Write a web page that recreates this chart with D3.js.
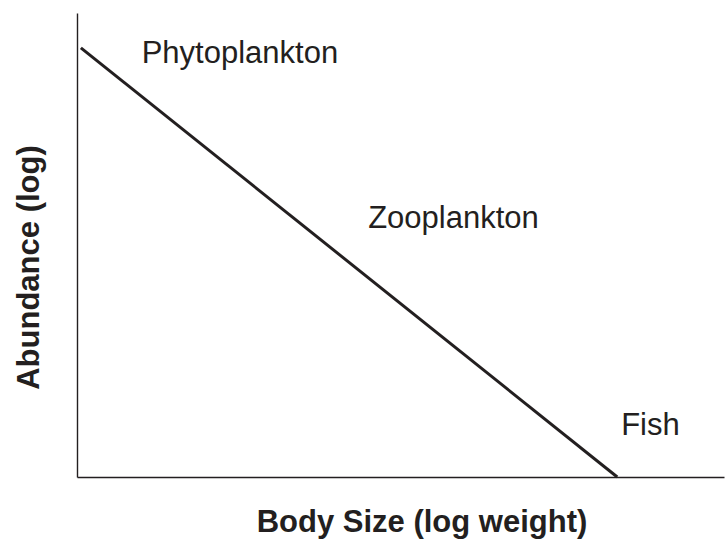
<!DOCTYPE html>
<html>
<head>
<meta charset="utf-8">
<script src="https://cdn.jsdelivr.net/npm/d3@7"></script>
<style>
  html, body { margin: 0; padding: 0; background: #fff; }
  svg { display: block; }
</style>
</head>
<body>
<svg id="chart" width="726" height="539"></svg>
<script>
// ---- data ----
const xDomain = [0, 10];            // log body weight (arbitrary units)
const yDomain = [0, 10];            // log abundance (arbitrary units)
const lineX = [0.06, 8.35];
const lineY = [9.25, 0];
const labelNames = ["Phytoplankton", "Zooplankton", "Fish"];
const labelX = [1.0, 4.5, 8.41];
const labelY = [8.92, 5.37, 0.905];
const xTitle = "Body Size (log weight)";
const yTitle = "Abundance (log)";

// ---- layout ----
const plotLeft = 77, plotRight = 724, plotTop = 13, plotBottom = 477;
const ink = "#231f20";
const font = "'Liberation Sans', Arial, Helvetica, sans-serif";

const svg = d3.select("#chart");
const x = d3.scaleLinear().domain(xDomain).range([plotLeft, plotRight]);
const y = d3.scaleLinear().domain(yDomain).range([plotBottom, plotTop]);

// axes (no ticks)
svg.append("g")
  .attr("transform", `translate(0,${plotBottom})`)
  .call(d3.axisBottom(x).tickValues([]).tickSizeOuter(0))
  .call(g => g.select(".domain").attr("stroke", ink).attr("stroke-width", 1.4));
svg.append("g")
  .attr("transform", `translate(${plotLeft},0)`)
  .call(d3.axisLeft(y).tickValues([]).tickSizeOuter(0))
  .call(g => g.select(".domain").attr("stroke", ink).attr("stroke-width", 1.4));

// size-spectrum line
const pts = lineX.map((v, i) => [v, lineY[i]]);
svg.append("path")
  .datum(pts)
  .attr("fill", "none")
  .attr("stroke", ink)
  .attr("stroke-width", 3)
  .attr("d", d3.line().x(d => x(d[0])).y(d => y(d[1])));

// labels
svg.selectAll("text.lbl")
  .data(labelNames)
  .join("text")
  .attr("class", "lbl")
  .attr("x", (d, i) => x(labelX[i]))
  .attr("y", (d, i) => y(labelY[i]))
  .attr("font-family", font)
  .attr("font-size", 31)
  .attr("fill", ink)
  .text(d => d);

// axis titles
svg.append("text")
  .attr("x", 422)
  .attr("y", 532)
  .attr("text-anchor", "middle")
  .attr("font-family", font)
  .attr("font-size", 31)
  .attr("font-weight", "bold")
  .attr("fill", ink)
  .text(xTitle);

svg.append("text")
  .attr("transform", "translate(39,267.5) rotate(-90)")
  .attr("text-anchor", "middle")
  .attr("font-family", font)
  .attr("font-size", 31)
  .attr("font-weight", "bold")
  .attr("fill", ink)
  .text(yTitle);
</script>
</body>
</html>
